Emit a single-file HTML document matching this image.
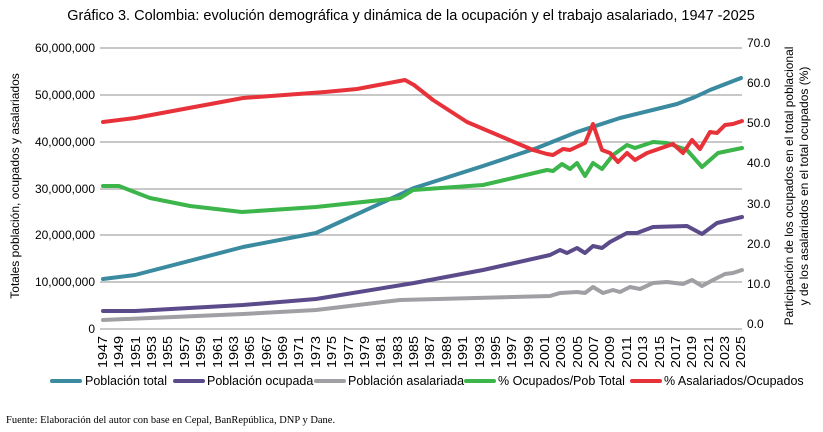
<!DOCTYPE html>
<html><head><meta charset="utf-8"><style>
body{margin:0;background:#fff;}
svg{display:block;font-family:"Liberation Sans",sans-serif;}
</style></head><body>
<svg width="823" height="432" viewBox="0 0 823 432">
<text x="411" y="20" text-anchor="middle" font-size="14.5" fill="#000">Gráfico 3. Colombia: evolución demográfica y dinámica de la ocupación y el trabajo asalariado, 1947 -2025</text>
<g stroke="#a6a6a6" stroke-width="1.2">
<line x1="100" y1="48" x2="742" y2="48"/><line x1="100" y1="95" x2="742" y2="95"/>
<line x1="100" y1="142" x2="742" y2="142"/><line x1="100" y1="189" x2="742" y2="189"/>
<line x1="100" y1="235" x2="742" y2="235"/><line x1="100" y1="282" x2="742" y2="282"/>
<line x1="100" y1="329" x2="742" y2="329"/>
</g>
<g font-size="12" fill="#000" text-anchor="end">
<text x="95" y="52">60,000,000</text><text x="95" y="99">50,000,000</text>
<text x="95" y="146">40,000,000</text><text x="95" y="193">30,000,000</text>
<text x="95" y="239">20,000,000</text><text x="95" y="286">10,000,000</text>
<text x="95" y="333">0</text>
</g>
<g font-size="12" fill="#000">
<text x="747" y="47">70.0</text><text x="747" y="87">60.0</text><text x="747" y="127">50.0</text>
<text x="747" y="167">40.0</text><text x="747" y="208">30.0</text><text x="747" y="248">20.0</text>
<text x="747" y="288">10.0</text><text x="747" y="328">0.0</text>
</g>
<text transform="translate(19,186) rotate(-90)" text-anchor="middle" font-size="12">Totales población, ocupados y asalariados</text>
<text transform="translate(793,186) rotate(-90)" text-anchor="middle" font-size="12">Participación de los ocupados  en el total poblacional</text>
<text transform="translate(808,186) rotate(-90)" text-anchor="middle" font-size="12">y de los asalariados en el total ocupados (%)</text>
<g fill="none" stroke-width="4" stroke-linejoin="round" stroke-linecap="round">
<polyline stroke="#3a8aa0" points="103,279 135,275 243,247 316,233 414,188 483,166 537,148 577,132 620,118 677,104 695,97 710,90 741,78"/>
<polyline stroke="#5b4b8a" points="103,311 135,311 243,305 316,299 414,283 483,270 550,255 560,250 567,253 577,248 585,253 593,246 602,248 610,242 627,233 637,233 653,227 687,226 702,234 717,223 742,217"/>
<polyline stroke="#a0a0a4" points="103,320 243,314 316,310 400,300 550,296 560,293 577,292 585,293 593,287 603,293 613,290 620,292 630,287 640,289 653,283 667,282 683,284 692,280 702,286 713,280 725,274 733,273 742,270"/>
<polyline stroke="#3cb54a" points="103,186 119,186 150,198 190,206 242,212 316,207 400,198 413,190 483,185 547,170 553,171 562,164 570,169 577,163 585,176 593,163 602,169 613,155 627,145 635,148 653,142 667,143 687,150 702,167 718,153 742,148"/>
<polyline stroke="#e8323a" points="103,122 135,118 243,98 325,92 357,89 405,80 414,85 433,100 467,122 533,150 547,154 553,155 563,149 570,150 585,143 593,124 602,150 610,153 618,162 627,153 635,160 647,153 673,144 683,153 692,140 700,149 710,132 717,133 725,125 733,124 742,121"/>
</g>
<g stroke-width="4" stroke-linecap="round">
<line x1="52" y1="381" x2="80" y2="381" stroke="#3a8aa0"/>
<line x1="175" y1="381" x2="203" y2="381" stroke="#5b4b8a"/>
<line x1="316" y1="381" x2="344" y2="381" stroke="#a0a0a4"/>
<line x1="466" y1="381" x2="494" y2="381" stroke="#3cb54a"/>
<line x1="632" y1="381" x2="660" y2="381" stroke="#e8323a"/>
</g>
<g font-size="12.5" fill="#000">
<text x="85" y="385">Población total</text>
<text x="207" y="385">Población ocupada</text>
<text x="348" y="385">Población asalariada</text>
<text x="498" y="385">% Ocupados/Pob Total</text>
<text x="664" y="385">% Asalariados/Ocupados</text>
</g>
<text x="6" y="423" font-family="Liberation Serif,serif" font-size="10.5">Fuente: Elaboración del autor con base en Cepal, BanRepública, DNP y Dane.</text>
<g font-size="13" fill="#000">
<text transform="translate(107,368) rotate(-90)" textLength="32" lengthAdjust="spacingAndGlyphs">1947</text>
<text transform="translate(123,368) rotate(-90)" textLength="32" lengthAdjust="spacingAndGlyphs">1949</text>
<text transform="translate(140,368) rotate(-90)" textLength="32" lengthAdjust="spacingAndGlyphs">1951</text>
<text transform="translate(156,368) rotate(-90)" textLength="32" lengthAdjust="spacingAndGlyphs">1953</text>
<text transform="translate(172,368) rotate(-90)" textLength="32" lengthAdjust="spacingAndGlyphs">1955</text>
<text transform="translate(189,368) rotate(-90)" textLength="32" lengthAdjust="spacingAndGlyphs">1957</text>
<text transform="translate(205,368) rotate(-90)" textLength="32" lengthAdjust="spacingAndGlyphs">1959</text>
<text transform="translate(222,368) rotate(-90)" textLength="32" lengthAdjust="spacingAndGlyphs">1961</text>
<text transform="translate(238,368) rotate(-90)" textLength="32" lengthAdjust="spacingAndGlyphs">1963</text>
<text transform="translate(254,368) rotate(-90)" textLength="32" lengthAdjust="spacingAndGlyphs">1965</text>
<text transform="translate(271,368) rotate(-90)" textLength="32" lengthAdjust="spacingAndGlyphs">1967</text>
<text transform="translate(287,368) rotate(-90)" textLength="32" lengthAdjust="spacingAndGlyphs">1969</text>
<text transform="translate(303,368) rotate(-90)" textLength="32" lengthAdjust="spacingAndGlyphs">1971</text>
<text transform="translate(320,368) rotate(-90)" textLength="32" lengthAdjust="spacingAndGlyphs">1973</text>
<text transform="translate(336,368) rotate(-90)" textLength="32" lengthAdjust="spacingAndGlyphs">1975</text>
<text transform="translate(353,368) rotate(-90)" textLength="32" lengthAdjust="spacingAndGlyphs">1977</text>
<text transform="translate(369,368) rotate(-90)" textLength="32" lengthAdjust="spacingAndGlyphs">1979</text>
<text transform="translate(385,368) rotate(-90)" textLength="32" lengthAdjust="spacingAndGlyphs">1981</text>
<text transform="translate(402,368) rotate(-90)" textLength="32" lengthAdjust="spacingAndGlyphs">1983</text>
<text transform="translate(418,368) rotate(-90)" textLength="32" lengthAdjust="spacingAndGlyphs">1985</text>
<text transform="translate(434,368) rotate(-90)" textLength="32" lengthAdjust="spacingAndGlyphs">1987</text>
<text transform="translate(451,368) rotate(-90)" textLength="32" lengthAdjust="spacingAndGlyphs">1989</text>
<text transform="translate(467,368) rotate(-90)" textLength="32" lengthAdjust="spacingAndGlyphs">1991</text>
<text transform="translate(484,368) rotate(-90)" textLength="32" lengthAdjust="spacingAndGlyphs">1993</text>
<text transform="translate(500,368) rotate(-90)" textLength="32" lengthAdjust="spacingAndGlyphs">1995</text>
<text transform="translate(516,368) rotate(-90)" textLength="32" lengthAdjust="spacingAndGlyphs">1997</text>
<text transform="translate(533,368) rotate(-90)" textLength="32" lengthAdjust="spacingAndGlyphs">1999</text>
<text transform="translate(549,368) rotate(-90)" textLength="32" lengthAdjust="spacingAndGlyphs">2001</text>
<text transform="translate(565,368) rotate(-90)" textLength="32" lengthAdjust="spacingAndGlyphs">2003</text>
<text transform="translate(582,368) rotate(-90)" textLength="32" lengthAdjust="spacingAndGlyphs">2005</text>
<text transform="translate(598,368) rotate(-90)" textLength="32" lengthAdjust="spacingAndGlyphs">2007</text>
<text transform="translate(614,368) rotate(-90)" textLength="32" lengthAdjust="spacingAndGlyphs">2009</text>
<text transform="translate(631,368) rotate(-90)" textLength="32" lengthAdjust="spacingAndGlyphs">2011</text>
<text transform="translate(647,368) rotate(-90)" textLength="32" lengthAdjust="spacingAndGlyphs">2013</text>
<text transform="translate(664,368) rotate(-90)" textLength="32" lengthAdjust="spacingAndGlyphs">2015</text>
<text transform="translate(680,368) rotate(-90)" textLength="32" lengthAdjust="spacingAndGlyphs">2017</text>
<text transform="translate(696,368) rotate(-90)" textLength="32" lengthAdjust="spacingAndGlyphs">2019</text>
<text transform="translate(713,368) rotate(-90)" textLength="32" lengthAdjust="spacingAndGlyphs">2021</text>
<text transform="translate(729,368) rotate(-90)" textLength="32" lengthAdjust="spacingAndGlyphs">2023</text>
<text transform="translate(745,368) rotate(-90)" textLength="32" lengthAdjust="spacingAndGlyphs">2025</text>
</g>
</svg>
</body></html>
